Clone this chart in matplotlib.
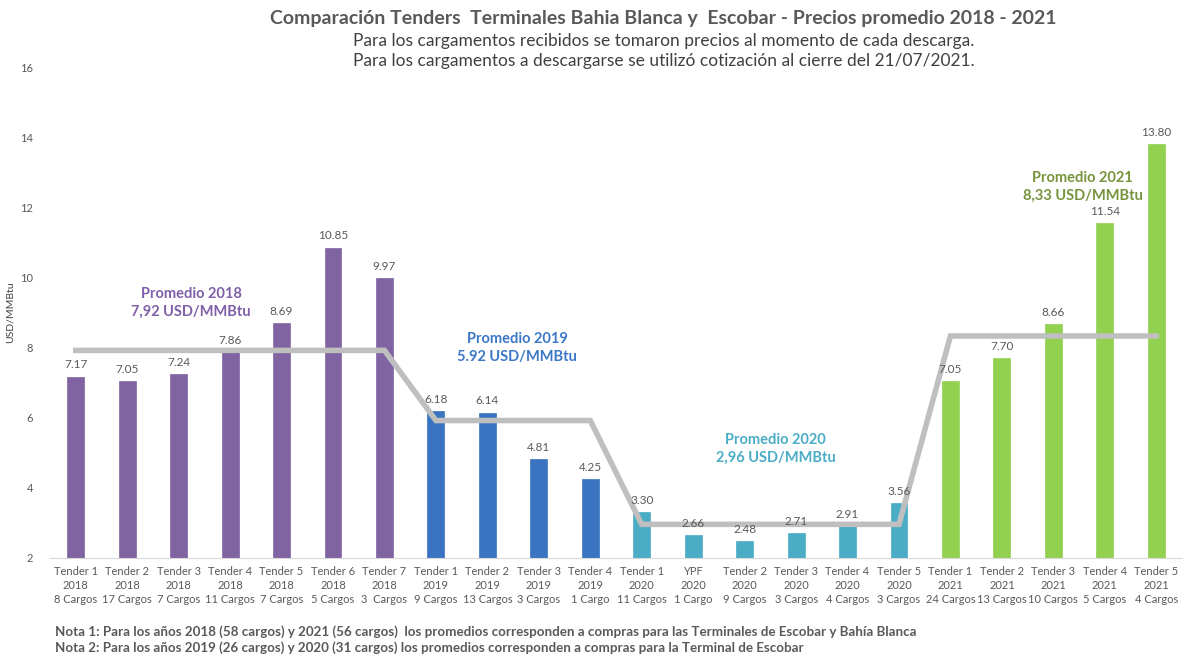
import numpy as np
import matplotlib
matplotlib.use("Agg")
import matplotlib.pyplot as plt

plt.rcParams['font.family'] = ['Lato', 'DejaVu Sans']

tenders = ["Tender 1", "Tender 2", "Tender 3", "Tender 4", "Tender 5", "Tender 6", "Tender 7",
           "Tender 1", "Tender 2", "Tender 3", "Tender 4",
           "Tender 1", "YPF", "Tender 2", "Tender 3", "Tender 4", "Tender 5",
           "Tender 1", "Tender 2", "Tender 3", "Tender 4", "Tender 5"]
years = ["2018"] * 7 + ["2019"] * 4 + ["2020"] * 6 + ["2021"] * 5
cargos = ["8 Cargos", "17 Cargos", "7 Cargos", "11 Cargos", "7 Cargos", "5 Cargos", "3  Cargos",
          "9 Cargos", "13 Cargos", "3 Cargos", "1 Cargo",
          "11 Cargos", "1 Cargo", "9 Cargos", "3 Cargos", "4 Cargos", "3 Cargos",
          "24 Cargos", "13 Cargos", "10 Cargos", "5 Cargos", "4 Cargos"]
prices = [7.17, 7.05, 7.24, 7.86, 8.69, 10.85, 9.97,
          6.18, 6.14, 4.81, 4.25,
          3.30, 2.66, 2.48, 2.71, 2.91, 3.56,
          7.05, 7.70, 8.66, 11.54, 13.80]
avg_by_year = {"2018": 7.92, "2019": 5.92, "2020": 2.96, "2021": 8.33}
avg_text = {"2018": "Promedio 2018\n7,92 USD/MMBtu",
            "2019": "Promedio 2019\n5.92 USD/MMBtu",
            "2020": "Promedio 2020\n2,96 USD/MMBtu",
            "2021": "Promedio 2021\n8,33 USD/MMBtu"}

bar_colors = {"2018": "#8064A2", "2019": "#3A74C0", "2020": "#4BACC6", "2021": "#92D050"}
text_colors = {"2018": "#7F5FA8", "2019": "#3C78C8", "2020": "#4BACC6", "2021": "#77933C"}
gray = "#595959"

fig = plt.figure(figsize=(12, 6.6), dpi=100)
ax = fig.add_axes([50 / 1200, 102 / 660, 1132 / 1200, 491 / 660])

x = np.arange(len(prices))
colors = [bar_colors[y] for y in years]
ax.bar(x, np.array(prices) - 2, bottom=2, width=0.33, color=colors, edgecolor=colors, linewidth=0.5, zorder=2)

avg_line = [avg_by_year[y] for y in years]
ax.plot(x, avg_line, color="#BFBFBF", linewidth=4, zorder=3, solid_joinstyle="miter")

for xi, v in zip(x, prices):
    ax.text(xi, v + 0.18, "%.2f" % v, ha="center", va="bottom", fontsize=8.5, color=gray, zorder=4)

# year average annotations
ann_pos = {"2018": (2.24, 9.27), "2019": (8.58, 7.99), "2020": (13.6, 5.11), "2021": (19.57, 12.58)}
for yr, (ax_x, ax_y) in ann_pos.items():
    ax.text(ax_x, ax_y, avg_text[yr], ha="center", va="center", fontsize=10.5, fontweight="bold",
            color=text_colors[yr], linespacing=1.35)

ax.set_xlim(-0.5, len(prices) - 0.5)
ax.set_ylim(2, 16)
ax.set_yticks(np.arange(2, 17, 2))
ax.set_yticklabels([str(t) for t in range(2, 17, 2)], fontsize=8, color=gray)
ax.set_xticks(x)
ax.set_xticklabels(["%s\n%s\n%s" % (t, y, c) for t, y, c in zip(tenders, years, cargos)],
                   fontsize=8, color=gray, linespacing=1.3)
ax.tick_params(length=0, pad=6)
ax.tick_params(axis="y", pad=12)
for s in ["top", "right", "left"]:
    ax.spines[s].set_visible(False)
ax.spines["bottom"].set_color("#D9D9D9")
ax.set_ylabel("USD/MMBtu", fontsize=7.5, color="#404040")
ax.yaxis.set_label_coords(-0.031, 0.5)

fig.text(0.553, 0.972, "Comparación Tenders  Terminales Bahia Blanca y  Escobar - Precios promedio 2018 - 2021",
         ha="center", va="center", fontsize=14, fontweight="bold", color=gray)
fig.text(0.553, 0.938, "Para los cargamentos recibidos se tomaron precios al momento de cada descarga.",
         ha="center", va="center", fontsize=12.5, color="#404040")
fig.text(0.553, 0.908, "Para los cargamentos a descargarse se utilizó cotización al cierre del 21/07/2021.",
         ha="center", va="center", fontsize=12.5, color="#404040")

fig.text(55 / 1200, 1 - 632 / 660, "Nota 1: Para los años 2018 (58 cargos) y 2021 (56 cargos)  los promedios corresponden a compras para las Terminales de Escobar y Bahía Blanca",
         ha="left", va="center", fontsize=9.6, fontweight="bold", color=gray)
fig.text(55 / 1200, 1 - 648 / 660, "Nota 2: Para los años 2019 (26 cargos) y 2020 (31 cargos) los promedios corresponden a compras para la Terminal de Escobar",
         ha="left", va="center", fontsize=9.6, fontweight="bold", color=gray)

fig.savefig("out.png", dpi=100)
